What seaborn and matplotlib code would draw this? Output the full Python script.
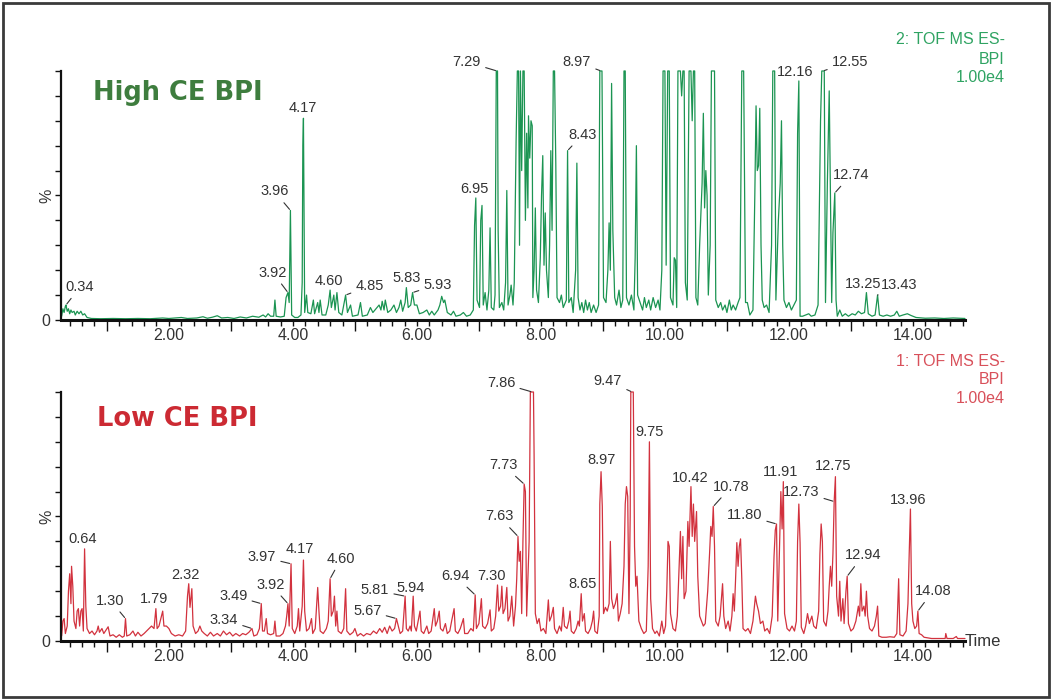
import pandas as pd
import matplotlib.pyplot as plt
import seaborn as sns
from matplotlib.ticker import MultipleLocator, FuncFormatter
from matplotlib.patches import Rectangle

# --- High CE BPI trace (time in min, intensity in %) ---
high_pts = [
    (0.27, 1.5), (0.29, 4.5), (0.31, 3), (0.33, 5.5), (0.34, 6), (0.36, 3.5), (0.38, 4.5), (0.40, 2.5),
    (0.42, 4), (0.44, 3), (0.47, 3.5), (0.49, 2), (0.52, 3.5), (0.55, 2.5), (0.58, 3.5), (0.61, 2),
    (0.64, 2.5), (0.68, 1), (0.75, 0.6), (0.9, 0.5), (1.1, 0.6), (1.3, 0.5), (1.5, 0.6), (1.7, 0.5),
    (1.9, 0.8), (2.0, 0.6), (2.2, 1.0), (2.3, 0.6), (2.45, 0.8), (2.55, 1.3), (2.62, 0.7), (2.7, 1.1),
    (2.78, 1.7), (2.85, 0.8), (2.95, 1.0), (3.05, 0.6), (3.15, 1.2), (3.25, 0.8), (3.35, 1.5), (3.45, 1.1),
    (3.52, 2.0), (3.56, 1.2), (3.60, 2.5), (3.64, 1.5), (3.69, 1.5), (3.71, 8), (3.73, 1.5), (3.80, 1.2),
    (3.86, 1.5), (3.89, 9), (3.92, 11), (3.94, 7), (3.96, 44), (3.98, 2), (4.03, 1), (4.08, 1),
    (4.13, 2), (4.15, 15), (4.16, 70), (4.17, 81), (4.19, 3), (4.22, 10), (4.24, 3), (4.29, 2.5),
    (4.33, 8), (4.35, 2.5), (4.40, 7), (4.42, 3), (4.44, 8), (4.47, 2), (4.53, 2), (4.57, 6),
    (4.60, 12), (4.62, 5), (4.66, 10), (4.68, 4), (4.71, 11), (4.74, 3), (4.79, 2), (4.82, 6),
    (4.85, 10), (4.88, 3), (4.93, 6), (4.96, 1.5), (5.05, 2), (5.09, 7), (5.12, 1.5), (5.20, 2),
    (5.25, 5), (5.29, 3), (5.34, 4.5), (5.39, 6), (5.42, 4), (5.44, 7.5), (5.47, 4), (5.49, 8),
    (5.53, 3), (5.58, 4), (5.63, 6), (5.67, 3), (5.71, 5), (5.74, 8), (5.77, 3.5), (5.81, 7),
    (5.83, 13), (5.86, 5), (5.90, 6), (5.93, 11), (5.96, 6), (6.00, 6), (6.04, 2.5), (6.10, 3),
    (6.16, 4), (6.20, 2), (6.24, 3.5), (6.28, 2), (6.34, 4), (6.37, 6), (6.40, 9.5), (6.43, 7),
    (6.45, 8), (6.49, 3), (6.55, 2), (6.59, 3.5), (6.63, 1.5), (6.70, 2), (6.75, 3), (6.80, 1.5),
    (6.86, 2), (6.91, 4), (6.93, 38), (6.95, 49), (6.97, 8), (7.01, 5), (7.03, 40), (7.05, 46),
    (7.07, 6), (7.10, 11), (7.13, 4), (7.16, 12), (7.18, 37), (7.20, 5), (7.24, 4), (7.26, 10),
    (7.28, 100), (7.30, 100), (7.31, 36), (7.33, 5), (7.37, 7), (7.40, 4), (7.43, 15), (7.45, 52),
    (7.47, 6), (7.50, 10), (7.52, 14), (7.55, 6), (7.57, 15), (7.60, 72), (7.62, 100), (7.64, 100),
    (7.655, 30), (7.67, 100), (7.69, 60), (7.71, 100), (7.73, 100), (7.75, 40), (7.77, 75), (7.79, 45),
    (7.80, 82), (7.82, 65), (7.84, 80), (7.86, 78), (7.87, 9), (7.89, 20), (7.91, 45), (7.93, 12),
    (7.96, 7), (7.99, 25), (8.01, 50), (8.03, 66), (8.05, 22), (8.07, 43), (8.09, 20), (8.12, 9),
    (8.14, 30), (8.16, 68), (8.18, 36), (8.20, 100), (8.22, 100), (8.24, 63), (8.26, 9), (8.30, 7),
    (8.33, 10), (8.36, 5), (8.41, 8), (8.43, 68), (8.45, 7), (8.49, 9), (8.52, 3), (8.56, 20),
    (8.58, 63), (8.60, 9), (8.63, 4), (8.66, 7), (8.69, 3), (8.72, 8), (8.75, 4), (8.78, 7),
    (8.81, 3), (8.85, 6), (8.89, 3), (8.93, 6), (8.95, 100), (8.985, 100), (9.01, 9), (9.05, 7),
    (9.08, 20), (9.10, 39), (9.12, 20), (9.14, 95), (9.16, 36), (9.19, 9), (9.22, 6), (9.26, 12),
    (9.29, 5), (9.32, 8), (9.34, 100), (9.36, 100), (9.38, 9), (9.42, 6), (9.46, 10), (9.50, 4),
    (9.52, 25), (9.54, 70), (9.56, 10), (9.60, 7), (9.64, 4), (9.67, 9), (9.70, 5), (9.74, 8),
    (9.77, 4), (9.81, 9), (9.85, 5), (9.89, 8), (9.92, 4), (9.95, 20), (9.97, 100), (10.00, 100),
    (10.02, 22), (10.045, 100), (10.07, 100), (10.09, 9), (10.13, 6), (10.15, 25), (10.17, 24), (10.19, 5),
    (10.21, 100), (10.25, 100), (10.27, 90), (10.29, 100), (10.31, 100), (10.33, 15), (10.36, 8), (10.39, 100),
    (10.42, 100), (10.44, 80), (10.46, 100), (10.48, 100), (10.50, 9), (10.53, 6), (10.56, 30), (10.60, 55),
    (10.62, 83), (10.64, 45), (10.66, 60), (10.68, 50), (10.70, 10), (10.73, 30), (10.75, 100), (10.80, 100),
    (10.82, 8), (10.86, 5), (10.90, 7), (10.93, 4), (10.97, 6), (11.00, 3), (11.04, 8), (11.07, 4),
    (11.10, 6), (11.14, 4), (11.18, 7), (11.21, 9), (11.22, 40), (11.24, 100), (11.27, 100), (11.28, 70),
    (11.30, 7), (11.33, 7), (11.37, 2), (11.42, 4), (11.45, 50), (11.47, 86), (11.49, 60), (11.51, 62),
    (11.53, 85), (11.55, 30), (11.57, 8), (11.60, 5), (11.64, 6), (11.68, 3), (11.72, 30), (11.74, 100),
    (11.77, 100), (11.79, 8), (11.83, 40), (11.86, 55), (11.88, 80), (11.90, 30), (11.92, 8), (11.96, 5),
    (12.00, 7), (12.04, 4), (12.08, 6), (12.12, 8), (12.14, 75), (12.16, 96), (12.18, 1.5), (12.22, 1.5),
    (12.27, 2), (12.32, 2.5), (12.36, 1.5), (12.42, 2), (12.47, 6), (12.51, 80), (12.53, 100), (12.57, 100),
    (12.59, 7), (12.62, 55), (12.65, 92), (12.67, 48), (12.69, 7), (12.71, 35), (12.74, 51), (12.76, 8),
    (12.78, 1.5), (12.82, 4), (12.86, 1.5), (12.91, 2.5), (12.96, 1.5), (13.02, 2.5), (13.07, 2), (13.12, 3.5),
    (13.17, 2.5), (13.22, 3), (13.25, 11), (13.28, 2.5), (13.34, 1.5), (13.39, 2), (13.43, 10), (13.46, 2),
    (13.52, 1.5), (13.58, 2), (13.64, 1.5), (13.70, 2), (13.74, 3.5), (13.78, 1.5), (13.84, 2), (13.91, 2.5),
    (13.97, 1.8), (14.05, 1), (14.2, 0.7), (14.35, 0.8), (14.5, 0.6), (14.65, 0.8), (14.84, 0.6),
]

# --- Low CE BPI trace (time in min, intensity in %) ---
low_pts = [
    (0.27, 2), (0.29, 8), (0.31, 9), (0.33, 3), (0.36, 6), (0.38, 20), (0.40, 27), (0.42, 15),
    (0.43, 30), (0.45, 22), (0.47, 8), (0.50, 5), (0.52, 12), (0.54, 13), (0.56, 6), (0.58, 12),
    (0.60, 13), (0.62, 4), (0.64, 37), (0.66, 14), (0.68, 5), (0.72, 3), (0.76, 4), (0.80, 2.5),
    (0.84, 4), (0.86, 6), (0.88, 3.5), (0.92, 5), (0.95, 3), (0.99, 4.5), (1.02, 5.7), (1.05, 2),
    (1.10, 2.5), (1.15, 1.5), (1.20, 2.5), (1.25, 1.5), (1.28, 2), (1.30, 9), (1.32, 2), (1.37, 2.5),
    (1.42, 4), (1.46, 2), (1.50, 3.5), (1.55, 2), (1.60, 3), (1.64, 4), (1.68, 5), (1.72, 6),
    (1.76, 5), (1.79, 13), (1.81, 5), (1.84, 6), (1.87, 9), (1.90, 12), (1.92, 6), (1.96, 6),
    (2.00, 5), (2.04, 3), (2.10, 2), (2.16, 2.5), (2.22, 2), (2.27, 4), (2.30, 18), (2.32, 23),
    (2.34, 13.5), (2.37, 21), (2.39, 6), (2.43, 3), (2.47, 4), (2.50, 6), (2.53, 4), (2.57, 3),
    (2.62, 2), (2.67, 3.5), (2.72, 2), (2.78, 3), (2.83, 2), (2.88, 4), (2.93, 2.5), (2.98, 3.5),
    (3.03, 2), (3.08, 3), (3.14, 2), (3.19, 3), (3.24, 2.5), (3.29, 3.5), (3.34, 5), (3.37, 2),
    (3.42, 2.5), (3.46, 5), (3.49, 15), (3.51, 4), (3.54, 4), (3.57, 9), (3.59, 3), (3.64, 2.5),
    (3.69, 3), (3.71, 8), (3.73, 2), (3.79, 2), (3.84, 3), (3.88, 6), (3.90, 10), (3.92, 15),
    (3.94, 6), (3.97, 31), (3.99, 5), (4.03, 3), (4.07, 6), (4.09, 13), (4.11, 4), (4.15, 14),
    (4.17, 32.5), (4.19, 12), (4.22, 4), (4.26, 5), (4.30, 9), (4.32, 3), (4.36, 5), (4.40, 21.5),
    (4.42, 12), (4.44, 4), (4.49, 3), (4.54, 5), (4.57, 8), (4.60, 25), (4.62, 10), (4.65, 12),
    (4.67, 18), (4.69, 6), (4.71, 12), (4.73, 4), (4.78, 3), (4.82, 5), (4.85, 21), (4.87, 4),
    (4.92, 2.5), (4.97, 3.5), (5.00, 5), (5.04, 2), (5.09, 3), (5.14, 2), (5.19, 3), (5.25, 2.5),
    (5.30, 4), (5.35, 3), (5.40, 5), (5.44, 3.5), (5.48, 5.5), (5.52, 3), (5.56, 6), (5.60, 4),
    (5.64, 5), (5.67, 9), (5.70, 6), (5.73, 3), (5.77, 4), (5.81, 18), (5.83, 5), (5.86, 4),
    (5.89, 6), (5.91, 4), (5.94, 18), (5.96, 6), (5.99, 4), (6.02, 8), (6.05, 12), (6.07, 4),
    (6.11, 3), (6.16, 6), (6.19, 3), (6.23, 4), (6.28, 13), (6.30, 6), (6.33, 8), (6.36, 12),
    (6.38, 5), (6.42, 4), (6.46, 7), (6.49, 3), (6.53, 4), (6.56, 8), (6.60, 13), (6.62, 4),
    (6.66, 3), (6.70, 5), (6.75, 9), (6.77, 3), (6.82, 3), (6.87, 5), (6.91, 4), (6.94, 18.5),
    (6.96, 5), (7.00, 7), (7.04, 17), (7.06, 6), (7.10, 5), (7.14, 7), (7.18, 12.5), (7.20, 4),
    (7.24, 5), (7.27, 10), (7.30, 22.5), (7.32, 12), (7.35, 14), (7.37, 22), (7.39, 11), (7.42, 13),
    (7.45, 21.5), (7.47, 8), (7.50, 10), (7.53, 18), (7.56, 6), (7.59, 14), (7.61, 25), (7.63, 42),
    (7.65, 32), (7.67, 36), (7.69, 11), (7.71, 40), (7.73, 63), (7.75, 60), (7.77, 10), (7.81, 40),
    (7.83, 100), (7.88, 100), (7.89, 75), (7.91, 11), (7.94, 7), (7.97, 9), (8.00, 4), (8.04, 5),
    (8.08, 3), (8.12, 16.5), (8.14, 8), (8.17, 10), (8.20, 13.5), (8.22, 5), (8.26, 3), (8.30, 6),
    (8.33, 4), (8.36, 13.5), (8.38, 6), (8.42, 5), (8.45, 8), (8.47, 12), (8.49, 4), (8.53, 3),
    (8.57, 5), (8.60, 8), (8.62, 6), (8.65, 19), (8.67, 8), (8.70, 11), (8.72, 4), (8.76, 3),
    (8.80, 5), (8.83, 8), (8.85, 12), (8.87, 4), (8.91, 3), (8.94, 10), (8.95, 55), (8.97, 68),
    (8.99, 54), (9.01, 11), (9.04, 13.5), (9.07, 12), (9.10, 15), (9.12, 40), (9.14, 17), (9.17, 13),
    (9.20, 15), (9.23, 19), (9.25, 8), (9.28, 11), (9.31, 15), (9.34, 30), (9.36, 55), (9.38, 62),
    (9.40, 58), (9.42, 11), (9.44, 50), (9.45, 100), (9.49, 100), (9.51, 38), (9.53, 22), (9.55, 26),
    (9.58, 8), (9.62, 5), (9.66, 3), (9.70, 4), (9.73, 30), (9.75, 80), (9.77, 17), (9.80, 5),
    (9.84, 3), (9.87, 4), (9.91, 2), (9.95, 8), (9.98, 3), (10.01, 6), (10.03, 20), (10.05, 40),
    (10.07, 38), (10.09, 11), (10.13, 5), (10.17, 4), (10.20, 10), (10.23, 30), (10.25, 44), (10.27, 25),
    (10.29, 42), (10.31, 17), (10.34, 20), (10.37, 48), (10.39, 38), (10.42, 62), (10.44, 42), (10.46, 55),
    (10.48, 40), (10.51, 52), (10.53, 26), (10.56, 10), (10.59, 8), (10.62, 6), (10.65, 7), (10.69, 20),
    (10.72, 35), (10.74, 46), (10.76, 42), (10.78, 54), (10.80, 38), (10.82, 8), (10.86, 6), (10.89, 10),
    (10.93, 23), (10.95, 10), (10.98, 5), (11.02, 8), (11.05, 4), (11.08, 10), (11.10, 19), (11.12, 12),
    (11.14, 25), (11.16, 39.5), (11.18, 30), (11.20, 38), (11.22, 41), (11.24, 25), (11.26, 5), (11.30, 4),
    (11.34, 5), (11.38, 3), (11.42, 8), (11.46, 18), (11.48, 15), (11.51, 12), (11.54, 7), (11.58, 8),
    (11.61, 4), (11.65, 5), (11.69, 3), (11.73, 10), (11.76, 34), (11.78, 44.5), (11.80, 47), (11.82, 8),
    (11.85, 40), (11.87, 60), (11.89, 45), (11.91, 64), (11.93, 11), (11.97, 5), (12.01, 4), (12.05, 6),
    (12.09, 4), (12.12, 8), (12.14, 40), (12.16, 55), (12.18, 39.5), (12.20, 5.5), (12.24, 3), (12.27, 6),
    (12.30, 11), (12.33, 7), (12.37, 10), (12.40, 6), (12.44, 5), (12.48, 12), (12.50, 35), (12.52, 47),
    (12.54, 40), (12.56, 8), (12.60, 6), (12.63, 12), (12.65, 22), (12.67, 30), (12.69, 22), (12.71, 35),
    (12.73, 56), (12.75, 66), (12.77, 18), (12.80, 10), (12.82, 24), (12.84, 8), (12.87, 17), (12.89, 7),
    (12.92, 20), (12.94, 26), (12.96, 7), (13.00, 4), (13.04, 5), (13.08, 8), (13.12, 14), (13.14, 10),
    (13.16, 23), (13.18, 12), (13.21, 14), (13.23, 10), (13.25, 20), (13.27, 10), (13.30, 5), (13.34, 4),
    (13.38, 6), (13.41, 10), (13.43, 14), (13.45, 2), (13.50, 1.5), (13.57, 1.5), (13.63, 1.7), (13.70, 1.5),
    (13.74, 3), (13.76, 18), (13.77, 25), (13.79, 2.5), (13.84, 2), (13.89, 4), (13.92, 15), (13.94, 35),
    (13.96, 53), (13.98, 15), (14.00, 8), (14.03, 5), (14.06, 6), (14.08, 12), (14.10, 3), (14.14, 2.5),
    (14.18, 1.5), (14.30, 1), (14.45, 1), (14.52, 1), (14.53, 3), (14.55, 1), (14.65, 1), (14.70, 1.8),
    (14.72, 1), (14.84, 1),
]

# labelled peaks (retention times)
high_peaks = [0.34, 3.92, 3.96, 4.17, 4.60, 4.85, 5.83, 5.93, 6.95, 7.29, 8.43, 8.97,
              12.16, 12.55, 12.74, 13.25, 13.43]
low_peaks = [0.64, 1.30, 1.79, 2.32, 3.34, 3.49, 3.92, 3.97, 4.17, 4.60, 5.67, 5.81, 5.94,
             6.94, 7.30, 7.63, 7.73, 7.86, 8.65, 8.97, 9.47, 9.75, 10.42, 10.78, 11.80,
             11.91, 12.73, 12.75, 12.94, 13.96, 14.08]

# label text offsets from the apex, in pixels
high_offsets = {0.34: (14, 18), 3.92: (-15, 20), 3.96: (-16, 19), 4.17: (-1, 10), 4.60: (-1, 9),
                4.85: (24, 9), 5.83: (0, 10), 5.93: (25, 8), 6.95: (-1, 9), 7.29: (-30, 9),
                8.43: (15, 16), 8.97: (-24, 9), 12.16: (-4, 9), 12.55: (27, 9), 12.74: (16, 18),
                13.25: (-3, 9), 13.43: (22, 10)}
low_offsets = {0.64: (-2, 10), 1.30: (-15, 18), 1.79: (-2, 10), 2.32: (-3, 9), 3.34: (-28, 9),
               3.49: (-28, 8), 3.92: (-17, 19), 3.97: (-29, 7), 4.17: (-4, 11), 4.60: (11, 20),
               5.67: (-29, 8), 5.81: (-30, 6), 5.94: (-3, 8), 6.94: (-20, 19), 7.30: (-6, 9),
               7.63: (-19, 20), 7.73: (-21, 19), 7.86: (-31, 9), 8.65: (1, 10), 8.97: (1, 12),
               9.47: (-24, 11), 9.75: (0, 10), 10.42: (-1, 9), 10.78: (18, 20), 11.80: (-32, 9),
               11.91: (-3, 10), 12.73: (-33, 10), 12.75: (-2, 11), 12.94: (16, 21), 13.96: (-2, 9),
               14.08: (15, 20)}

high_info = ['2: TOF MS ES-', 'BPI', '1.00e4']
low_info = ['1: TOF MS ES-', 'BPI', '1.00e4']

sns.set_style('white')
plt.rcParams['font.family'] = ['Liberation Sans', 'DejaVu Sans']

fig = plt.figure(figsize=(10.52, 7.0), dpi=100)
ax_hi = fig.add_axes([0.058, 0.5429, 0.8593, 0.3557])
ax_lo = fig.add_axes([0.058, 0.0843, 0.8593, 0.3557])

TXT = '#333333'


def minute_label(x, pos):
    r = round(x)
    if abs(x - r) < 1e-6 and r % 2 == 0:
        return f'{r:.2f}'
    return ''


def draw_panel(ax, pts, color, peaks, offsets):
    df = pd.DataFrame(pts, columns=['time', 'pct'])
    sns.lineplot(data=df, x='time', y='pct', ax=ax, color=color, lw=0.9,
                 estimator=None, sort=False)
    ax.lines[-1].set_clip_on(False)
    ax.set_xlim(0.26, 14.84)
    ax.set_ylim(0, 100)
    ax.set_xlabel('')
    ax.set_ylabel('')
    for s in ['top', 'right']:
        ax.spines[s].set_visible(False)
    ax.spines['bottom'].set_linewidth(2.2)
    ax.spines['bottom'].set_color('#111111')
    ax.spines['left'].set_linewidth(1.6)
    ax.spines['left'].set_color('#111111')

    ax.set_yticks(range(0, 101, 10))
    ax.set_yticklabels(['0'] + [''] * 10)
    ax.tick_params(axis='y', length=4, width=1, color='#111111', labelsize=11.5,
                   labelcolor=TXT, pad=4, left=True)
    ax.annotate('%', xy=(0, 0.5), xycoords='axes fraction', xytext=(-14, 0),
                textcoords='offset pixels', rotation=90, ha='center', va='center',
                fontsize=11.5, color=TXT)

    ax.xaxis.set_major_locator(plt.FixedLocator([1, 3, 5, 7, 9, 11, 13]))
    ax.xaxis.set_major_formatter(FuncFormatter(lambda x, p: ''))
    ax.xaxis.set_minor_locator(MultipleLocator(0.2))
    ax.xaxis.set_minor_formatter(FuncFormatter(minute_label))
    ax.tick_params(axis='x', which='major', length=8, width=1, color='#111111', bottom=True)
    ax.tick_params(axis='x', which='minor', length=4, width=1, color='#111111', bottom=True,
                   labelsize=11.5, labelcolor=TXT, pad=2)

    for t in peaks:
        i = (df['time'] - t).abs().idxmin()
        v = df.loc[i, 'pct']
        dx, dy = offsets[t]
        arrow = None
        if abs(dx) > 8:
            arrow = dict(arrowstyle='-', color=TXT, lw=0.8, shrinkA=1, shrinkB=1)
        ax.annotate(f'{t:.2f}', xy=(t, v), xytext=(dx, dy), textcoords='offset pixels',
                    ha='center', va='center', fontsize=10.5, color=TXT,
                    arrowprops=arrow, annotation_clip=False)


draw_panel(ax_hi, high_pts, '#1b9452', high_peaks, high_offsets)
draw_panel(ax_lo, low_pts, '#d2323e', low_peaks, low_offsets)

# panel titles
fig.text(178 / 1052, 1 - 100 / 700, 'High CE BPI', family='DejaVu Sans', weight='bold',
         fontsize=18.5, color='#3e7d3e', ha='center', va='baseline')
fig.text(177 / 1052, 1 - 426 / 700, 'Low CE BPI', family='DejaVu Sans', weight='bold',
         fontsize=18.5, color='#cc2a33', ha='center', va='baseline')

# channel info, top right of each panel
for k, line in enumerate(high_info):
    fig.text(1005 / 1052, 1 - (40 + 19 * k) / 700, line, ha='right', va='center',
             fontsize=11.5, color='#2fa362')
for k, line in enumerate(low_info):
    fig.text(1005 / 1052, 1 - (361 + 19 * k) / 700, line, ha='right', va='center',
             fontsize=11.5, color='#d8505a')

fig.text(983 / 1052, 1 - 641 / 700, 'Time', ha='center', va='center', fontsize=12, color=TXT)

# outer frame
fig.patches.append(Rectangle((3 / 1052, 3 / 700), 1046 / 1052, 694 / 700, transform=fig.transFigure,
                             fill=False, ec='#3a3a3a', lw=2))

fig.savefig('out.png', dpi=100, facecolor='white')
plt.close(fig)
